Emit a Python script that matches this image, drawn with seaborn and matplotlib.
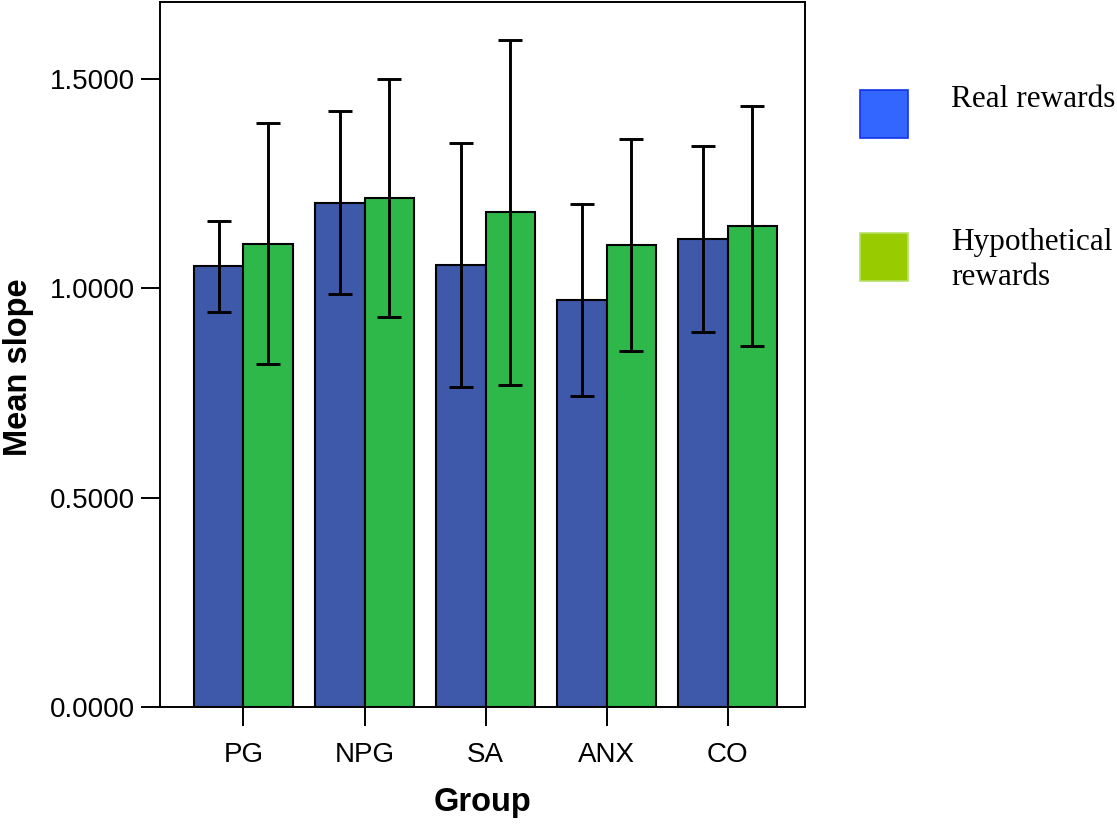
import pandas as pd
import matplotlib
matplotlib.use("Agg")
import matplotlib.pyplot as plt
import seaborn as sns
from matplotlib.patches import Rectangle

# Data
groups = ["PG", "NPG", "SA", "ANX", "CO"]
conditions = ["Real rewards", "Hypothetical rewards"]
legend_labels = ["Real rewards", "Hypothetical\nrewards"]
real_mean = [1.052, 1.204, 1.055, 0.971, 1.117]
real_err = [0.108, 0.218, 0.292, 0.229, 0.222]
hypo_mean = [1.106, 1.214, 1.181, 1.103, 1.148]
hypo_err = [0.288, 0.284, 0.412, 0.254, 0.287]
y_ticks = [0.0, 0.5, 1.0, 1.5]

bar_colors = ["#3E58AA", "#2EB84A"]
legend_colors = ["#3366FF", "#99CC00"]
legend_edges = ["#1133EE", "#B8E066"]

df = pd.DataFrame({
    "Group": groups * 2,
    "Condition": [conditions[0]] * len(groups) + [conditions[1]] * len(groups),
    "Mean slope": real_mean + hypo_mean,
})

sns.set_style("white")
plt.rcParams["font.family"] = ["Liberation Sans", "DejaVu Sans"]
plt.rcParams["text.color"] = "black"
plt.rcParams["axes.labelcolor"] = "black"
plt.rcParams["xtick.color"] = "black"
plt.rcParams["ytick.color"] = "black"

W, H = 1117, 824
fig = plt.figure(figsize=(W / 100, H / 100), dpi=100)
ax = fig.add_axes([160 / W, 1 - 707 / H, 645 / W, 705 / H])

sns.barplot(data=df, x="Group", y="Mean slope", hue="Condition",
            palette=bar_colors, width=0.82, edgecolor="black", linewidth=1.5,
            saturation=1, errorbar=None, legend=False, ax=ax)

# error bars on top of each bar
for container, means, errs in zip(ax.containers, [real_mean, hypo_mean], [real_err, hypo_err]):
    xs = [b.get_x() + b.get_width() / 2 for b in container]
    ax.errorbar(xs, means, yerr=errs, fmt="none", ecolor="black",
                elinewidth=2.1, capsize=8.5, capthick=2.1, zorder=3)

ax.set_ylim(0, 1.683)
ax.set_xlim(-0.69, 4.64)
ax.set_yticks(y_ticks)
ax.set_yticklabels([f"{t:.4f}" for t in y_ticks])

for side in ["left", "right", "top", "bottom"]:
    ax.spines[side].set_visible(True)
    ax.spines[side].set_color("black")
    ax.spines[side].set_linewidth(1.4)

ax.tick_params(axis="y", direction="out", length=14, width=1.4, pad=4,
               labelsize=20, left=True)
ax.tick_params(axis="x", direction="out", length=14, width=1.4, pad=11,
               labelsize=20, bottom=True)

ax.set_xlabel("Group", fontsize=23.5, fontweight="bold", labelpad=14)
ax.set_ylabel("Mean slope", fontsize=23.5, fontweight="bold")
ax.yaxis.set_label_coords(-0.196, 0.482)

# legend drawn at the right, outside the plot box
rows_top = [90, 233]
for lab, col, edge, top in zip(legend_labels, legend_colors, legend_edges, rows_top):
    fig.add_artist(Rectangle((860 / W, 1 - (top + 48) / H), 48 / W, 48 / H,
                             facecolor=col, edgecolor=edge, linewidth=1.2,
                             transform=fig.transFigure))
    fig.text(951 / W, 1 - (top - 5) / H, lab, ha="left", va="top",
             fontsize=22.5, family=["Liberation Serif", "DejaVu Serif"],
             linespacing=1.28)

fig.savefig("out.png", dpi=100)
